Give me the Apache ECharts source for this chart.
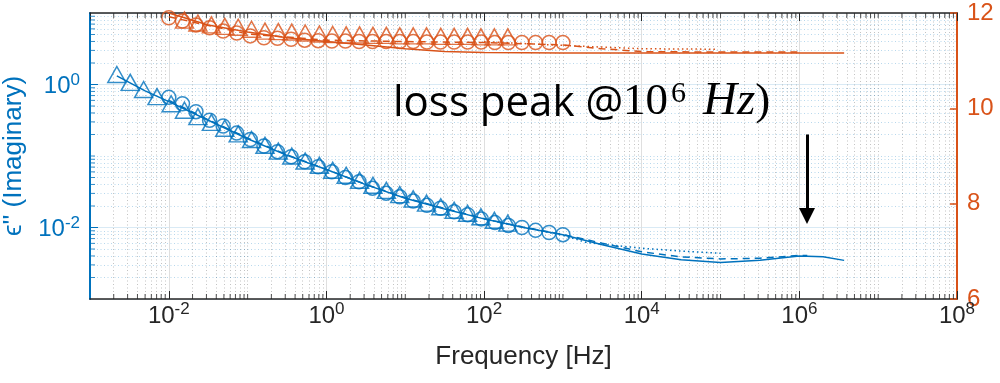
<!DOCTYPE html>
<html><head><meta charset="utf-8">
<script src="https://cdn.jsdelivr.net/npm/echarts@6/dist/echarts.min.js"></script>
<style>html,body{margin:0;padding:0;background:#fff}#c{width:1000px;height:383px}</style>
</head><body><div id="c"></div>
<script>
// ---------------- data ----------------
const circleFreq = [0.01,0.0149,0.0221,0.0329,0.0489,0.0727,0.108,0.161,0.239,0.356,0.529,0.786,1.17,1.74,2.59,3.84,5.72,8.50,12.6,18.8,28.0,41.6,61.8,91.9,137,203,302,450,668,1000];
const triFreq = [0.00219,0.00324,0.00479,0.00708,0.0107,0.0158,0.0234,0.0347,0.0513,0.0759,0.112,0.166,0.245,0.363,0.537,0.813,1.20,1.78,2.63,3.89,5.75,8.51,12.6,18.6,28.2,41.7,61.7,91.2,135,200];
const blueCircles = [0.661,0.537,0.417,0.316,0.263,0.209,0.170,0.138,0.115,0.0977,0.0832,0.0708,0.0603,0.0501,0.0437,0.0355,0.0302,0.0269,0.0234,0.0204,0.0186,0.0166,0.0151,0.0132,0.0117,0.0107,0.0100,0.00912,0.00851,0.00794];
const blueTriangles = [1.38,1.07,0.851,0.676,0.537,0.437,0.355,0.295,0.245,0.204,0.170,0.141,0.117,0.100,0.0851,0.0741,0.0631,0.0537,0.0457,0.0389,0.0331,0.0288,0.0251,0.0219,0.0195,0.0174,0.0158,0.0141,0.0126,0.0115];
const orangeCircles = [11.90,11.83,11.75,11.69,11.62,11.58,11.52,11.48,11.47,11.45,11.43,11.42,11.41,11.41,11.40,11.40,11.40,11.40,11.40,11.39,11.39,11.39,11.39,11.39,11.38,11.38,11.38,11.38,11.38,11.38];
const orangeTriangles = [13.2,12.9,12.6,12.35,12.1,11.85,11.79,11.75,11.72,11.70,11.66,11.62,11.61,11.60,11.58,11.56,11.55,11.54,11.54,11.53,11.53,11.52,11.52,11.52,11.51,11.51,11.51,11.50,11.50,11.50];

const blueSolidFreq = [0.00219,0.00501,0.01,0.0316,0.1,0.316,1,3.16,10,31.6,100,316,1000,3162,1e4,31623,1e5,316228,1e6,2e6,3.7e6];
const blueSolidVals = [1.32,0.813,0.575,0.316,0.174,0.102,0.0646,0.0398,0.0257,0.0182,0.0132,0.0100,0.00794,0.00575,0.00427,0.00355,0.00324,0.00347,0.00398,0.00389,0.00347];
const blueDashFreq = [0.01,0.0316,0.1,0.316,1,3.16,10,31.6,100,316,1000,3162,1e4,31623,1e5,316228,1e6,1.26e6];
const blueDashVals = [0.600,0.322,0.178,0.104,0.0650,0.0400,0.0260,0.0184,0.0133,0.0101,0.00800,0.00603,0.00457,0.00389,0.00363,0.00372,0.00407,0.00407];
const blueDotFreq = [100,1000,2000,1e4,31623,1e5];
const blueDotVals = [0.0132,0.00776,0.00617,0.00513,0.00468,0.00437];

const orangeSolidFreq = [0.00219,0.005,0.01,0.0316,0.1,0.316,1,3.16,10,31.6,100,1000,1e4,1e5,1e6,3.7e6];
const orangeSolidVals = [12.7,12.3,12.0,11.75,11.6,11.48,11.40,11.33,11.25,11.19,11.17,11.16,11.16,11.16,11.16,11.16];
const orangeDashFreq = [0.01,0.1,1,10,100,1000,3162,1e4,1e5,1e6];
const orangeDashVals = [11.92,11.56,11.43,11.40,11.38,11.33,11.25,11.19,11.18,11.18];
const orangeDotFreq = [100,1000,1e4,9e4];
const orangeDotVals = [11.40,11.32,11.25,11.24];

const yRightTicks = [6,8,10,12];
const arrowFreq = 1.25e6, arrowFrom = 0.2, arrowTo = 0.0145;

// ---------------- helpers ----------------
const BLUE = '#0072BD', ORANGE = '#D95319', DARK = '#262626';
const FONT = '"Liberation Sans", Arial, sans-serif';
const XMIN = 1e-3, XMAX = 1e8, YMIN = 1e-3, YMAX = 10;
const pair = (xs, ys) => xs.map((x, i) => [x, ys[i]]);

const minorX = [];
for (let k = -3; k < 8; k++) for (let m = 1; m <= 9; m++) {
  if (m === 1 && (k === -3 || k % 2 === 0)) continue;
  minorX.push(m * Math.pow(10, k));
}
const minorY = [];
for (let k = -3; k < 1; k++) for (let m = 1; m <= 9; m++) {
  if (m === 1 && (k === -3 || k % 2 === 0)) continue;
  minorY.push(m * Math.pow(10, k));
}
const supFmt = v => {
  const e = Math.round(Math.log10(v));
  return '{b|10}{s|' + e + '}';
};
const richFor = color => ({
  b: {fontSize: 24, fontFamily: FONT, color, verticalAlign: 'bottom', lineHeight: 28},
  s: {fontSize: 17, fontFamily: FONT, color, verticalAlign: 'bottom', lineHeight: 28, padding: [0, 0, 10, 0]}
});

const xAxisBase = {
  type: 'log', logBase: 100, min: XMIN, max: XMAX,
  axisLine: {show: true, onZero: false, lineStyle: {color: DARK, width: 1.5}},
  axisTick: {show: true, inside: true, length: 8, lineStyle: {color: DARK, width: 1}},
  minorTick: {show: false}, minorSplitLine: {show: false}
};

const chart = echarts.init(document.getElementById('c'), null, {renderer: 'canvas'});
chart.setOption({
  animation: false,
  backgroundColor: '#fff',
  textStyle: {fontFamily: FONT},
  grid: {left: 90, right: 43, top: 13, bottom: 84, containLabel: false, outerBoundsMode: 'none'},
  xAxis: [
    Object.assign({}, xAxisBase, {
      position: 'bottom',
      name: 'Frequency [Hz]', nameLocation: 'middle', nameGap: 45,
      nameTextStyle: {fontSize: 26, color: DARK, fontFamily: FONT},
      axisLabel: {show: true, showMinLabel: false, formatter: supFmt, rich: richFor(DARK), margin: 1},
      splitLine: {show: true, lineStyle: {color: '#DFDFDF', width: 1}}
    }),
    Object.assign({}, xAxisBase, {
      position: 'top', axisLabel: {show: false}, splitLine: {show: false}
    })
  ],
  yAxis: [
    {
      type: 'log', logBase: 100, min: YMIN, max: YMAX, position: 'left',
      name: 'ϵ\'\' (Imaginary)', nameLocation: 'middle', nameGap: 60,
      nameTextStyle: {fontSize: 26, color: BLUE, fontFamily: FONT},
      axisLine: {show: true, onZero: false, lineStyle: {color: BLUE, width: 2}},
      axisTick: {show: true, inside: true, length: 8, lineStyle: {color: BLUE, width: 1}},
      axisLabel: {show: true, showMinLabel: false, showMaxLabel: false, formatter: supFmt, rich: richFor(BLUE), margin: 10},
      splitLine: {show: true, lineStyle: {color: '#D9EAF5', width: 1}},
      minorTick: {show: false}, minorSplitLine: {show: false}
    },
    {
      type: 'value', min: 6, max: 12, interval: 2, position: 'right',
      axisLine: {show: true, onZero: false, lineStyle: {color: ORANGE, width: 2}},
      axisTick: {show: true, inside: true, length: 7, lineStyle: {color: ORANGE, width: 1.5}},
      axisLabel: {show: true, color: ORANGE, fontSize: 24, fontFamily: FONT, margin: 10,
        formatter: v => (yRightTicks.indexOf(v) >= 0 ? String(v) : '')},
      splitLine: {show: false}
    }
  ],
  graphic: [{
    type: 'text', left: 393, top: 78, z: 100,
    style: {
      text: '{a|loss peak @}{m|10}{s|6}{sp| }{i|Hz}{m|)}',
      rich: {
        a: {fontFamily: '"Open Sans"', fontSize: 42, fill: '#000', verticalAlign: 'bottom', lineHeight: 50},
        sp: {fontFamily: '"Open Sans"', fontSize: 42, fill: '#000', verticalAlign: 'bottom', lineHeight: 50, padding: [0, 6, 0, 0]},
        m: {fontFamily: '"Liberation Serif"', fontSize: 45, fill: '#000', verticalAlign: 'bottom', lineHeight: 50},
        s: {fontFamily: '"Liberation Serif"', fontSize: 30, fill: '#000', verticalAlign: 'bottom', lineHeight: 50, padding: [0, 0, 16, 3]},
        i: {fontFamily: '"Liberation Serif"', fontStyle: 'italic', fontSize: 47, fill: '#000', verticalAlign: 'bottom', lineHeight: 50}
      }
    }
  }],
  series: [
    {
      name: 'blueFitSolid', type: 'line', xAxisIndex: 0, yAxisIndex: 0, showSymbol: false, symbol: 'none', z: 2,
      data: pair(blueSolidFreq, blueSolidVals), lineStyle: {color: BLUE, width: 1.5},
      markLine: {
        silent: true, z: 6, symbol: ['none', 'triangle'], symbolSize: 16, label: {show: false},
        lineStyle: {color: '#000', width: 3, type: 'solid'}, emphasis: {disabled: true},
        data: [[{coord: [arrowFreq, arrowFrom]}, {coord: [arrowFreq, arrowTo]}]]
      }
    },
    {
      name: 'blueFitDash', type: 'line', xAxisIndex: 0, yAxisIndex: 0, showSymbol: false, symbol: 'none', z: 2,
      data: pair(blueDashFreq, blueDashVals), lineStyle: {color: BLUE, width: 1.5, type: [7, 5]},
      markLine: {
        silent: true, z: 1, symbol: ['none', 'none'], label: {show: false}, emphasis: {disabled: true},
        lineStyle: {color: 'rgba(38,38,38,0.28)', width: 1, type: [1, 2.5]},
        data: minorX.map(v => [{coord: [v, YMIN]}, {coord: [v, YMAX]}])
      }
    },
    {
      name: 'blueFitDot', type: 'line', xAxisIndex: 0, yAxisIndex: 0, showSymbol: false, symbol: 'none', z: 2,
      data: pair(blueDotFreq, blueDotVals), lineStyle: {color: BLUE, width: 1.5, type: [1.5, 3]},
      markLine: {
        silent: true, z: 1, symbol: ['none', 'none'], label: {show: false}, emphasis: {disabled: true},
        lineStyle: {color: 'rgba(0,114,189,0.28)', width: 1, type: [1, 2.5]},
        data: minorY.map(v => [{coord: [XMIN, v]}, {coord: [XMAX, v]}])
      }
    },
    {name: 'orangeFitSolid', type: 'line', yAxisIndex: 1, showSymbol: false, symbol: 'none', z: 2,
      data: pair(orangeSolidFreq, orangeSolidVals), lineStyle: {color: ORANGE, width: 1.5}},
    {name: 'orangeFitDash', type: 'line', yAxisIndex: 1, showSymbol: false, symbol: 'none', z: 2,
      data: pair(orangeDashFreq, orangeDashVals), lineStyle: {color: ORANGE, width: 1.5, type: [7, 5]}},
    {name: 'orangeFitDot', type: 'line', yAxisIndex: 1, showSymbol: false, symbol: 'none', z: 2,
      data: pair(orangeDotFreq, orangeDotVals), lineStyle: {color: ORANGE, width: 1.5, type: [1.5, 3]}},
    {name: 'blueCircles', type: 'scatter', yAxisIndex: 0, symbol: 'circle', symbolSize: 14, z: 3,
      data: pair(circleFreq, blueCircles), itemStyle: {color: 'rgba(0,0,0,0)', borderColor: BLUE, borderWidth: 1.5}},
    {name: 'blueTriangles', type: 'scatter', yAxisIndex: 0, symbol: 'triangle', symbolSize: [18, 16], z: 3,
      data: pair(triFreq, blueTriangles), itemStyle: {color: 'rgba(0,0,0,0)', borderColor: BLUE, borderWidth: 1.5}},
    {name: 'orangeCircles', type: 'scatter', yAxisIndex: 1, symbol: 'circle', symbolSize: 14, z: 3,
      data: pair(circleFreq, orangeCircles), itemStyle: {color: 'rgba(0,0,0,0)', borderColor: ORANGE, borderWidth: 1.5}},
    {name: 'orangeTriangles', type: 'scatter', yAxisIndex: 1, symbol: 'triangle', symbolSize: [18, 16], z: 3,
      data: pair(triFreq, orangeTriangles), itemStyle: {color: 'rgba(0,0,0,0)', borderColor: ORANGE, borderWidth: 1.5}},
    // minor axis ticks
    {name: 'tickBottom', type: 'scatter', yAxisIndex: 0, symbol: 'rect', symbolSize: [1, 5], symbolOffset: [0, -2.5],
      clip: false, silent: true, z: 4, itemStyle: {color: DARK}, data: minorX.map(v => [v, YMIN])},
    {name: 'tickTop', type: 'scatter', yAxisIndex: 0, symbol: 'rect', symbolSize: [1, 5], symbolOffset: [0, 2.5],
      clip: false, silent: true, z: 4, itemStyle: {color: DARK}, data: minorX.map(v => [v, YMAX])},
    {name: 'tickLeft', type: 'scatter', yAxisIndex: 0, symbol: 'rect', symbolSize: [5, 1], symbolOffset: [2.5, 0],
      clip: false, silent: true, z: 4, itemStyle: {color: BLUE}, data: minorY.map(v => [XMIN, v])}
  ]
});
</script></body></html>
